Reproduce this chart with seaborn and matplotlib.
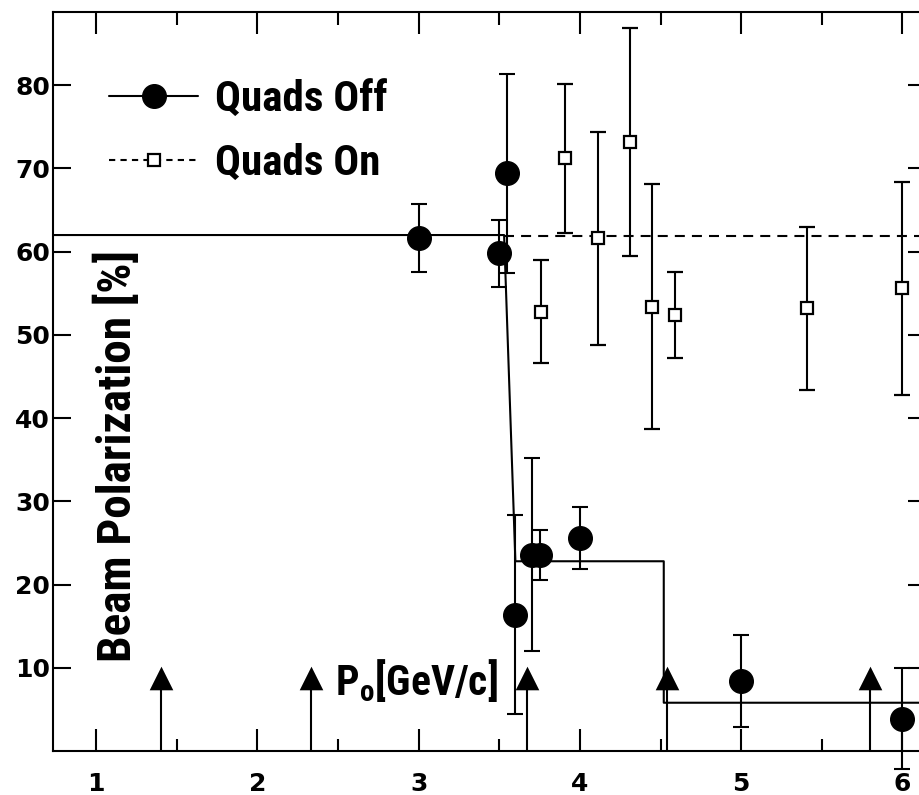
import numpy as np
import pandas as pd
import matplotlib
matplotlib.use('Agg')
import matplotlib.pyplot as plt
import seaborn as sns
from matplotlib.lines import Line2D
from matplotlib import font_manager

# Quads off (filled circles)
off_p = [3.00, 3.50, 3.55, 3.60, 3.70, 3.75, 4.00, 5.00, 6.00]
off_pol = [61.6, 59.8, 69.4, 16.4, 23.6, 23.6, 25.6, 8.4, 3.9]
off_err = [4.1, 4.0, 12.0, 12.0, 11.6, 3.0, 3.7, 5.5, 6.1]

# Quads on (open squares)
on_p = [3.76, 3.91, 4.11, 4.31, 4.45, 4.59, 5.41, 6.00]
on_pol = [52.8, 71.2, 61.6, 73.2, 53.4, 52.4, 53.2, 55.6]
on_err = [6.2, 9.0, 12.8, 13.7, 14.7, 5.2, 9.8, 12.8]

# step-like fits
fit_off_p = [0.70, 3.53, 3.60, 4.52, 4.52, 6.30]
fit_off_pol = [62.0, 62.0, 22.8, 22.8, 5.8, 5.8]
fit_on_p = [3.53, 6.30]
fit_on_pol = [61.9, 61.9]

# resonance markers along the bottom
res_p = [1.40, 2.33, 3.67, 4.54, 5.80]
res_top = 8.8

sns.set_style('ticks')
plt.rcParams['font.family'] = ['DejaVu Sans']
plt.rcParams['text.color'] = 'black'
plt.rcParams['xtick.color'] = 'black'
plt.rcParams['ytick.color'] = 'black'
plt.rcParams['axes.edgecolor'] = 'black'

# narrow bold face for the big labels
names = {f.name for f in font_manager.fontManager.ttflist}
label_font = [n for n in ['Roboto Condensed', 'Liberation Sans Narrow'] if n in names] + ['DejaVu Sans']

fig = plt.figure(figsize=(9.19, 7.95), dpi=100)
ax = fig.add_axes([53 / 919, 44 / 795, 873 / 919, 739 / 795])

lw = 1.5
sns.lineplot(x=fit_off_p, y=fit_off_pol, sort=False, estimator=None, color='black', lw=lw, ax=ax)
ax.plot(fit_on_p, fit_on_pol, color='black', lw=lw, dashes=(4.8, 3.4))

# resonance arrows
ax.vlines(res_p, 0, res_top, color='black', lw=lw)
ax.scatter(res_p, [res_top] * len(res_p), marker='^', s=17 ** 2, color='black', zorder=4, linewidths=0)

ax.errorbar(on_p, on_pol, yerr=on_err, fmt='s', ms=9, mfc='white', mec='black', mew=1.6,
            ecolor='black', elinewidth=lw, capsize=5.5, capthick=lw, zorder=5)
ax.errorbar(off_p, off_pol, yerr=off_err, fmt='o', ms=17, color='black',
            elinewidth=lw, capsize=5.5, capthick=lw, zorder=6, clip_on=False)

ax.set_xlim(0.733, 6.146)
ax.set_ylim(0, 88.8)
ax.set_xticks([1, 2, 3, 4, 5, 6])
ax.set_xticks(np.arange(1.5, 6.0, 1.0), minor=True)
ax.set_yticks(range(10, 90, 10))
ax.tick_params(axis='x', which='major', direction='in', length=16, width=lw, top=True,
               labelsize=18, pad=15)
ax.tick_params(axis='x', which='minor', direction='in', length=9, width=lw, top=True)
ax.tick_params(axis='y', which='major', direction='in', length=13, width=lw, right=True,
               labelsize=18, pad=2)
for lab in ax.get_xticklabels() + ax.get_yticklabels():
    lab.set_fontweight('bold')
for s in ax.spines.values():
    s.set_linewidth(lw)
    s.set_visible(True)

ax.text(0.073, 0.12, 'Beam Polarization [%]', transform=ax.transAxes, rotation=90,
        ha='center', va='bottom', fontsize=34, fontweight='bold', family=label_font)
ax.text(0.323, 0.076, r'P$_\mathregular{o}$[GeV/c]', transform=ax.transAxes,
        ha='left', va='baseline', fontsize=30, fontweight='bold', family=label_font)

handles = [
    Line2D([], [], color='black', lw=lw, marker='o', ms=17),
    Line2D([], [], color='black', lw=lw, dashes=(3, 2.5), marker='s', ms=9,
           mfc='white', mec='black', mew=1.6),
]
ax.legend(handles, ['Quads Off', 'Quads On'], loc='upper left', bbox_to_anchor=(0.02, 0.962),
          frameon=False, handlelength=2.07, handletextpad=0.38, labelspacing=0.53,
          prop={'family': label_font, 'weight': 'bold', 'size': 31})

fig.savefig('out.png', dpi=100)
